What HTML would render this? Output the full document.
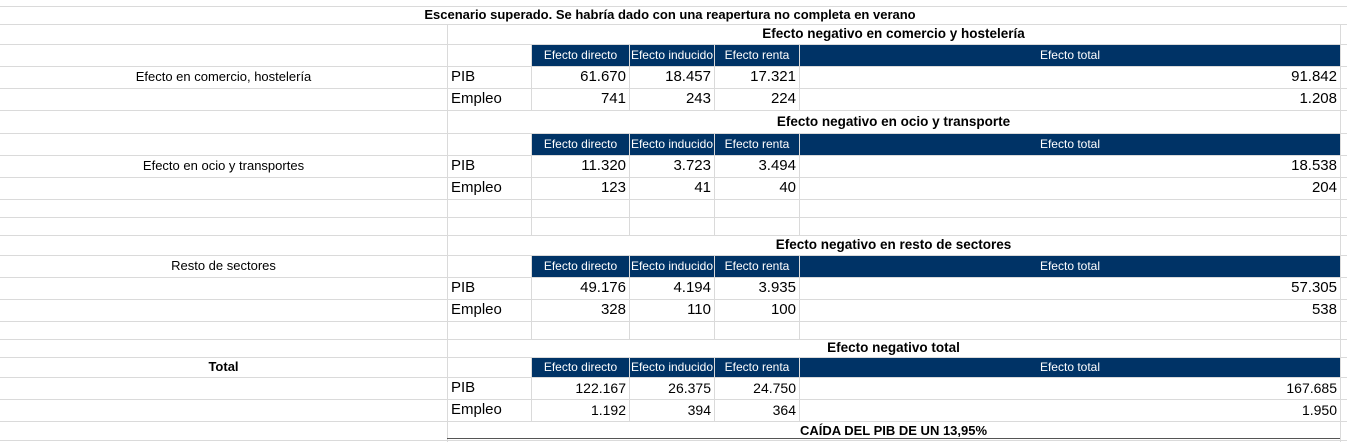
<!DOCTYPE html>
<html><head><meta charset="utf-8">
<style>
html,body{margin:0;padding:0;background:#fff;}
#sheet{position:relative;width:1347px;height:442px;overflow:hidden;font-family:"Liberation Sans",sans-serif;color:#000;}
.h{position:absolute;height:1px;background:#dadada;}
.v{position:absolute;width:1px;background:#dadada;}
.t{position:absolute;white-space:nowrap;font-size:13px;line-height:20px;}
.b{font-weight:bold;}
.n{font-size:15px;}
.hd{position:absolute;background:#003366;color:#fff;font-family:"Liberation Sans Narrow","Liberation Sans",sans-serif;font-size:12px;text-align:center;line-height:20px;}
</style></head><body>
<div id="sheet"></div>
<script>
const sheet=document.getElementById('sheet');
const colX=[0,447,531,629,714,799,1340];
const rowY=[6,24,44,66,88,110,133,155,177,199,217,235,255,277,299,321,339,357,377,399,421,440];
const headers=["Efecto directo","Efecto inducido","Efecto renta","Efecto total"];
const sections=["Efecto negativo en comercio y hostelería","Efecto negativo en ocio y transporte","Efecto negativo en resto de sectores","Efecto negativo total"];
const sectionLabels=["Efecto en comercio, hostelería","Efecto en ocio y transportes","Resto de sectores","Total"];
const pibValues=[["61.670","18.457","17.321","91.842"],["11.320","3.723","3.494","18.538"],["49.176","4.194","3.935","57.305"],["122.167","26.375","24.750","167.685"]];
const empleoValues=[["741","243","224","1.208"],["123","41","40","204"],["328","110","100","538"],["1.192","394","364","1.950"]];
// row indices: title, header, pib, empleo, label row
const layout=[{t:1,h:2,p:3,e:4,l:3},{t:5,h:6,p:7,e:8,l:7},{t:11,h:12,p:13,e:14,l:12},{t:16,h:17,p:18,e:19,l:17}];

function add(cls,style,text,name){
  const d=document.createElement('div');
  d.className=cls;
  Object.assign(d.style,style);
  if(text!==undefined)d.textContent=text;
  
  
  sheet.appendChild(d);return d;
}
// grid
rowY.forEach((y,i)=>{add('h',{left:'0px',top:y+'px',width:'1347px'},undefined,'row-line');});
[447,1340].forEach(x=>add('v',{left:x+'px',top:'24px',height:'420px'},undefined,'column-line'));
layout.forEach(L=>{
  [531,629,714,799].forEach(x=>add('v',{left:x+'px',top:rowY[L.h]+'px',height:(rowY[L.e+1]-rowY[L.h])+'px'},undefined,'column-line'));
});
[531,629,714,799].forEach(x=>add('v',{left:x+'px',top:'199px',height:'36px'},undefined,'column-line'));
[531,629,714,799].forEach(x=>add('v',{left:x+'px',top:'321px',height:'18px'},undefined,'column-line'));
// title
add('t b',{left:'0px',width:'1340px',textAlign:'center',top:'6px',lineHeight:'18px'},'Escenario superado. Se habría dado con una reapertura no completa en verano','sheet-title');
layout.forEach((L,i)=>{
  const ty=rowY[L.t], th=rowY[L.t+1]-ty;
  add('t b',{left:'447px',width:'893px',textAlign:'center',top:ty+'px',lineHeight:th+'px',fontSize:'13.5px'},sections[i],'section-title');
  add('t'+(i==3?' b':''),{left:'0px',width:'447px',textAlign:'center',top:rowY[L.l]+'px',lineHeight:(rowY[L.l+1]-rowY[L.l])+'px'},sectionLabels[i],'section-label');
  const hy=rowY[L.h]+1, hh=rowY[L.h+1]-hy;
  headers.forEach((h,j)=>{
    const x0=colX[j+2]+1, x1=colX[j+3];
    add('hd',{left:x0+'px',top:hy+'px',width:(x1-x0)+'px',height:hh+'px',lineHeight:hh+'px'},h,'header-cell');
  });
  [['PIB',pibValues[i],L.p],['Empleo',empleoValues[i],L.e]].forEach(([lab,vals,r])=>{
    const y=rowY[r], hgt=rowY[r+1]-y;
    const font=(i==3)?'"Liberation Sans",sans-serif':'"Liberation Sans",sans-serif';
    add('t n',{left:'451px',top:y+'px',lineHeight:hgt+'px'},lab,'row-label');
    vals.forEach((v,j)=>{
      add('t n',{left:colX[j+2]+'px',width:(colX[j+3]-colX[j+2]-3)+'px',textAlign:'right',top:y+'px',lineHeight:hgt+'px',fontSize:(i==3?'14px':'15px')},v,'value-cell');
    });
  });
});
add('t b',{left:'447px',width:'893px',textAlign:'center',top:'421px',lineHeight:'20px'},'CAÍDA DEL PIB DE UN 13,95%','gdp-drop-note');
add('h',{left:'447px',top:'438px',width:'893px',background:'#555'},undefined,'bottom-border');
</script>
</body></html>
